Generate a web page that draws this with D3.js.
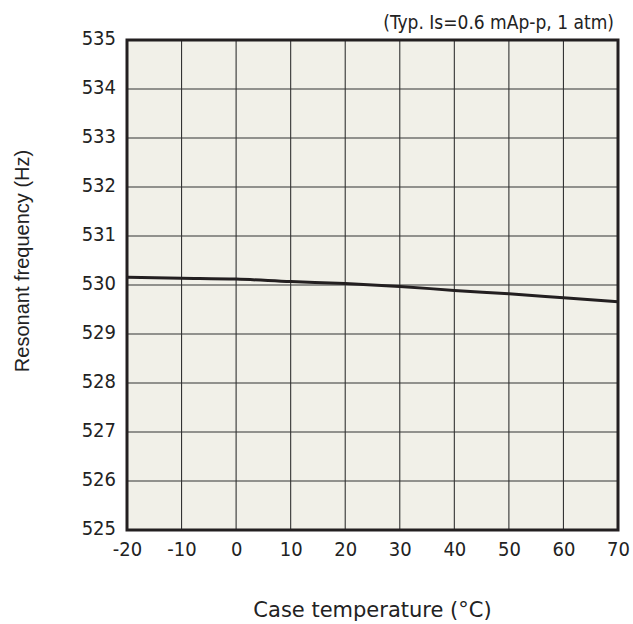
<!DOCTYPE html>
<html lang="en">
<head>
    <meta charset="UTF-8">
    <title>Resonant frequency vs case temperature</title>
    <style>
        body {
            margin: 0;
            background: #fff;
        }
        .tick text {
            font-family: "DejaVu Sans Condensed", "DejaVu Sans", sans-serif;
            font-size: 20px;
            fill: #222;
        }
    </style>
</head>
<body>
<div id="chart"></div>
<script src="https://d3js.org/d3.v7.min.js"></script>
<script>
    // Data
    const temps = [-20, -10, 0, 10, 20, 30, 40, 50, 60, 70];
    const freqs = [530.16, 530.14, 530.12, 530.07, 530.03, 529.97, 529.89, 529.82, 529.74, 529.66];
    const xTicks = [-20, -10, 0, 10, 20, 30, 40, 50, 60, 70];
    const yTicks = [525, 526, 527, 528, 529, 530, 531, 532, 533, 534, 535];

    const width = 633;
    const height = 624;
    const margin = {top: 40, right: 15, bottom: 94, left: 127};

    const svg = d3.select("#chart")
        .append("svg")
        .attr("width", width)
        .attr("height", height);

    const x = d3.scaleLinear()
        .domain([-20, 70])
        .range([margin.left, width - margin.right]);

    const y = d3.scaleLinear()
        .domain([525, 535])
        .range([height - margin.bottom, margin.top]);

    // plot background
    svg.append("rect")
        .attr("x", x(-20))
        .attr("y", y(535))
        .attr("width", x(70) - x(-20))
        .attr("height", y(525) - y(535))
        .attr("fill", "#f1f0e8");

    // grid
    svg.append("g")
        .selectAll("line")
        .data(xTicks.slice(1, -1))
        .join("line")
        .attr("x1", d => x(d)).attr("x2", d => x(d))
        .attr("y1", y(535)).attr("y2", y(525))
        .attr("stroke", "#333")
        .attr("stroke-width", 1.1);

    svg.append("g")
        .selectAll("line")
        .data(yTicks.slice(1, -1))
        .join("line")
        .attr("x1", x(-20)).attr("x2", x(70))
        .attr("y1", d => y(d)).attr("y2", d => y(d))
        .attr("stroke", "#333")
        .attr("stroke-width", 1.1);

    // axes (labels only)
    const xAxis = svg.append("g")
        .attr("transform", "translate(0," + y(525) + ")")
        .call(d3.axisBottom(x).tickValues(xTicks).tickSize(0).tickPadding(12)
            .tickFormat(d => String(d)));
    xAxis.select(".domain").remove();

    const yAxis = svg.append("g")
        .attr("transform", "translate(" + x(-20) + ",0)")
        .call(d3.axisLeft(y).tickValues(yTicks).tickSize(0).tickPadding(11)
            .tickFormat(d => String(d)));
    yAxis.select(".domain").remove();
    yAxis.selectAll(".tick text").attr("dy", "0.22em");

    // curve
    const line = d3.line()
        .x((d, i) => x(temps[i]))
        .y(d => y(d))
        .curve(d3.curveMonotoneX);

    svg.append("path")
        .datum(freqs)
        .attr("d", line)
        .attr("fill", "none")
        .attr("stroke", "#231f20")
        .attr("stroke-width", 3);

    // frame
    svg.append("rect")
        .attr("x", x(-20))
        .attr("y", y(535))
        .attr("width", x(70) - x(-20))
        .attr("height", y(525) - y(535))
        .attr("fill", "none")
        .attr("stroke", "#231f20")
        .attr("stroke-width", 3);

    // titles
    svg.append("text")
        .attr("x", (x(-20) + x(70)) / 2)
        .attr("y", 617)
        .attr("text-anchor", "middle")
        .attr("font-family", "'DejaVu Sans', sans-serif")
        .attr("font-size", 21)
        .attr("fill", "#222")
        .text("Case temperature (°C)");

    svg.append("text")
        .attr("transform", "translate(29," + 261 + ") rotate(-90)")
        .attr("text-anchor", "middle")
        .attr("font-family", "'Liberation Sans', Arial, sans-serif")
        .attr("font-size", 20)
        .attr("fill", "#222")
        .text("Resonant frequency (Hz)");

    svg.append("text")
        .attr("x", 614)
        .attr("y", 29)
        .attr("text-anchor", "end")
        .attr("font-family", "'DejaVu Sans Condensed', 'DejaVu Sans', sans-serif")
        .attr("font-size", 19)
        .attr("fill", "#222")
        .text("(Typ. Is=0.6 mAp-p, 1 atm)");
</script>
</body>
</html>
